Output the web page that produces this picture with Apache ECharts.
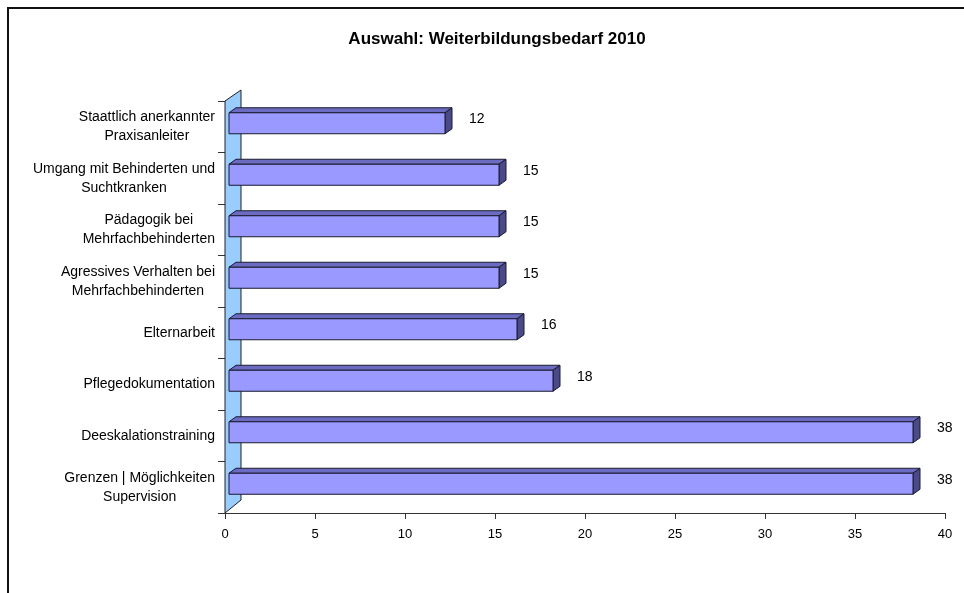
<!DOCTYPE html>
<html>
<head>
<meta charset="utf-8">
<script src="https://cdn.jsdelivr.net/npm/echarts@6/dist/echarts.min.js"></script>
<style>
html,body{margin:0;padding:0;background:#fff;}
#chart{width:964px;height:593px;}
</style>
</head>
<body>
<div id="chart"></div>
<script>
const titleText = 'Auswahl: Weiterbildungsbedarf 2010';
const categories = [
  'Staattlich anerkannter\nPraxisanleiter',
  'Umgang mit Behinderten und\nSuchtkranken',
  'Pädagogik bei\nMehrfachbehinderten',
  'Agressives Verhalten bei\nMehrfachbehinderten',
  'Elternarbeit',
  'Pflegedokumentation',
  'Deeskalationstraining',
  'Grenzen | Möglichkeiten\nSupervision'
];
const values = [12, 15, 15, 15, 16, 18, 38, 38];
const xTicks = [0, 5, 10, 15, 20, 25, 30, 35, 40];

const FONT = '"Liberation Sans", Arial, sans-serif';
const chart = echarts.init(document.getElementById('chart'), null, {renderer: 'canvas'});

const DX = 7, DY = -5, BAR_H = 21;

const option = {
  animation: false,
  backgroundColor: '#ffffff',
  title: {
    text: titleText,
    left: 492, top: 26, textAlign: 'center',
    textStyle: {fontFamily: FONT, fontSize: 17, fontWeight: 'bold', color: '#000'}
  },
  graphic: [{
    type: 'rect', z: -10, silent: true,
    shape: {x: 8, y: 8, width: 1000, height: 700},
    style: {fill: 'none', stroke: '#111', lineWidth: 2}
  }],
  grid: {left: 225, right: 19, top: 101, bottom: 80, containLabel: false},
  xAxis: {
    type: 'value', min: xTicks[0], max: xTicks[xTicks.length - 1], interval: 5,
    axisLine: {show: true, lineStyle: {color: '#333', width: 1}},
    axisTick: {show: true, length: 6, lineStyle: {color: '#333'}},
    splitLine: {show: false},
    axisLabel: {margin: 15, fontFamily: FONT, fontSize: 13, color: '#000'}
  },
  yAxis: {
    type: 'category', data: categories, inverse: true,
    axisLine: {show: true, lineStyle: {color: '#333'}},
    axisTick: {show: true, length: 7, interval: 0, lineStyle: {color: '#333'}},
    axisLabel: {
      margin: 10, interval: 0, fontFamily: FONT, fontSize: 14, color: '#000',
      lineHeight: 19,
      formatter: function (v) {
        return v.split('\n').map(s => '{c|' + s + '}').join('\n');
      },
      rich: {c: {align: 'center', fontFamily: FONT, fontSize: 14, lineHeight: 19, color: '#000'}}
    }
  },
  series: [
    {
      type: 'custom', z: 1, silent: true,
      data: [[0, 0]],
      renderItem: function (params, api) {
        const cs = params.coordSys;
        const x0 = cs.x, yt = cs.y, yb = cs.y + cs.height;
        return {
          type: 'polygon',
          shape: {points: [[x0, yb], [x0, yt], [x0 + 16, yt - 11], [x0 + 16, yb - 13]]},
          style: {fill: '#99CCFF', stroke: '#222', lineWidth: 1}
        };
      },
      clip: false
    },
    {
      type: 'custom', z: 3, silent: true,
      data: values.map((v, i) => [i, v]),
      encode: {x: 1, y: 0},
      clip: false,
      renderItem: function (params, api) {
        const cat = api.value(0), v = api.value(1);
        const p0 = api.coord([0, cat]);
        const p1 = api.coord([v, cat]);
        const yc = p0[1] - 3.5;
        const x0 = p0[0] + 4, x1 = p1[0] + 4;
        const yt = yc - BAR_H / 2, yb = yc + BAR_H / 2;
        const stroke = '#1a1a2e';
        return {
          type: 'group',
          children: [
            {type: 'polygon', shape: {points: [[x0, yt], [x0 + DX, yt + DY], [x1 + DX, yt + DY], [x1, yt]]},
              style: {fill: '#6B6BC2', stroke: stroke, lineWidth: 1}},
            {type: 'polygon', shape: {points: [[x1, yt], [x1 + DX, yt + DY], [x1 + DX, yb + DY], [x1, yb]]},
              style: {fill: '#4A4A8A', stroke: stroke, lineWidth: 1}},
            {type: 'rect', shape: {x: x0, y: yt, width: x1 - x0, height: BAR_H},
              style: {fill: '#9999FF', stroke: stroke, lineWidth: 1}},
            {type: 'text', x: x1 + DX + 17, y: yc - 4,
              style: {text: String(v), fontFamily: FONT, fontSize: 14, fill: '#000',
                align: 'left', verticalAlign: 'middle'}}
          ]
        };
      }
    }
  ]
};
chart.setOption(option);
</script>
</body>
</html>
